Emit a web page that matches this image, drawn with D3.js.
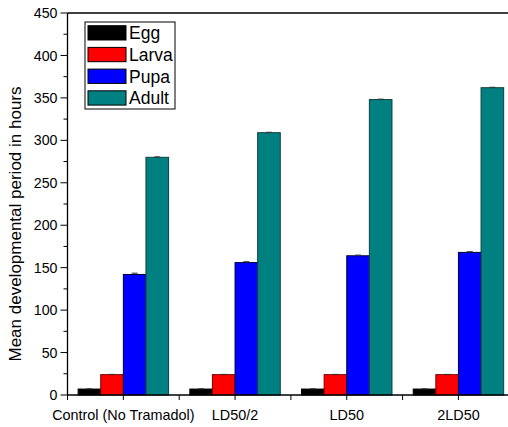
<!DOCTYPE html>
<html>
<head>
<meta charset="utf-8">
<script src="https://cdn.jsdelivr.net/npm/d3@7/dist/d3.min.js"></script>
<style>
  html, body { margin: 0; padding: 0; background: #fff; }
  svg { display: block; font-family: "Liberation Sans", Arial, sans-serif; }
</style>
</head>
<body>
<svg id="chart" width="508" height="427"></svg>
<script>
// Treatment groups and developmental stages
const groups = ["Control (No Tramadol)", "LD50/2", "LD50", "2LD50"];
const stages = ["Egg", "Larva", "Pupa", "Adult"];
const stageColors = ["#000000", "#ff0000", "#0000ff", "#008080"];
const stageStrokes = ["#000000", "#7a0000", "#00003a", "#0d3f3f"];

// Mean duration (hours) per stage, one value per group
const eggHours   = [7, 7, 7, 7];
const larvaHours = [24, 24, 24, 24];
const pupaHours  = [142, 156, 164, 168];
const adultHours = [280, 309, 348, 362];

// Standard errors
const eggErr   = [0.3, 0.3, 0.3, 0.3];
const larvaErr = [0.3, 0.3, 0.3, 0.3];
const pupaErr  = [1.5, 1, 0.8, 0.8];
const adultErr = [0.5, 0.5, 0.5, 0.5];

const yTicks = [0, 50, 100, 150, 200, 250, 300, 350, 400, 450];

const seriesValues = [eggHours, larvaHours, pupaHours, adultHours];
const seriesErrors = [eggErr, larvaErr, pupaErr, adultErr];

const svg = d3.select("#chart");
const plotLeft = 67.5, plotTop = 13, plotBottom = 395;
const step = 111.7;

const x0 = d3.scaleBand().domain(groups)
  .range([plotLeft, plotLeft + step * groups.length])
  .paddingInner(0).paddingOuter(0);
const x1 = d3.scaleBand().domain(stages)
  .range([0, x0.bandwidth()])
  .paddingInner(0).paddingOuter(0.47);
const y = d3.scaleLinear().domain([0, 450]).range([plotBottom, plotTop]);

// Bars
const rows = [];
groups.forEach((g, gi) => {
  stages.forEach((s, si) => {
    rows.push({ g, s, si, v: seriesValues[si][gi], e: seriesErrors[si][gi] });
  });
});

const barG = svg.append("g");
barG.selectAll("rect").data(rows).enter().append("rect")
  .attr("x", d => x0(d.g) + x1(d.s))
  .attr("y", d => y(d.v))
  .attr("width", x1.bandwidth())
  .attr("height", d => y(0) - y(d.v))
  .attr("fill", d => stageColors[d.si])
  .attr("stroke", d => stageStrokes[d.si])
  .attr("stroke-width", 1);

// Error bars (upper caps)
const errG = svg.append("g").attr("stroke", "#333").attr("stroke-width", 1);
rows.forEach(d => {
  const cx = x0(d.g) + x1(d.s) + x1.bandwidth() / 2;
  errG.append("line").attr("x1", cx).attr("x2", cx)
    .attr("y1", y(d.v)).attr("y2", y(d.v + d.e));
  errG.append("line").attr("x1", cx - 3).attr("x2", cx + 3)
    .attr("y1", y(d.v + d.e)).attr("y2", y(d.v + d.e));
});

// Frame lines
const frame = svg.append("g").attr("stroke", "#000").attr("stroke-width", 1.3);
frame.append("line").attr("x1", plotLeft).attr("x2", 508).attr("y1", plotTop).attr("y2", plotTop);
frame.append("line").attr("x1", plotLeft).attr("x2", plotLeft).attr("y1", plotTop).attr("y2", plotBottom);
frame.append("line").attr("x1", plotLeft).attr("x2", 508).attr("y1", plotBottom).attr("y2", plotBottom);

// Y axis ticks
const yAxis = svg.append("g");
d3.range(0, 451, 25).forEach(v => {
  const major = v % 50 === 0;
  yAxis.append("line")
    .attr("x1", plotLeft - (major ? 7 : 4)).attr("x2", plotLeft)
    .attr("y1", y(v)).attr("y2", y(v))
    .attr("stroke", "#000").attr("stroke-width", 1);
});
yAxis.selectAll("text").data(yTicks).enter().append("text")
  .attr("x", plotLeft - 10).attr("y", d => y(d))
  .attr("dy", "0.36em")
  .attr("text-anchor", "end")
  .attr("font-size", 14.2)
  .attr("fill", "#000")
  .text(d => d);

// X axis ticks: major at group centers, minor at group boundaries
const xAxis = svg.append("g");
groups.forEach(g => {
  const c = x0(g) + x0.bandwidth() / 2;
  xAxis.append("line").attr("x1", c).attr("x2", c)
    .attr("y1", plotBottom).attr("y2", plotBottom + 5)
    .attr("stroke", "#000").attr("stroke-width", 1);
  xAxis.append("line").attr("x1", x0(g)).attr("x2", x0(g))
    .attr("y1", plotBottom).attr("y2", plotBottom + 5)
    .attr("stroke", "#000").attr("stroke-width", 1);
});
xAxis.selectAll("text").data(groups).enter().append("text")
  .attr("x", d => x0(d) + x0.bandwidth() / 2)
  .attr("y", 420)
  .attr("text-anchor", "middle")
  .attr("font-size", 14.4)
  .attr("fill", "#000")
  .text(d => d);

// Y axis title
svg.append("text")
  .attr("transform", "translate(21,224) rotate(-90)")
  .attr("text-anchor", "middle")
  .attr("font-size", 17)
  .attr("fill", "#000")
  .text("Mean developmental period in hours");

// Legend
const legend = svg.append("g");
legend.append("rect")
  .attr("x", 85).attr("y", 22).attr("width", 90).attr("height", 87)
  .attr("fill", "#fff").attr("stroke", "#000").attr("stroke-width", 1);
stages.forEach((s, i) => {
  const ry = 25.7 + i * 21.7;
  legend.append("rect")
    .attr("x", 88).attr("y", ry).attr("width", 38).attr("height", 14.3)
    .attr("fill", stageColors[i]).attr("stroke", "#000").attr("stroke-width", 1);
  legend.append("text")
    .attr("x", 129).attr("y", ry + 7.3)
    .attr("dy", "0.36em")
    .attr("font-size", 17.5)
    .attr("fill", "#000")
    .text(s);
});
</script>
</body>
</html>
